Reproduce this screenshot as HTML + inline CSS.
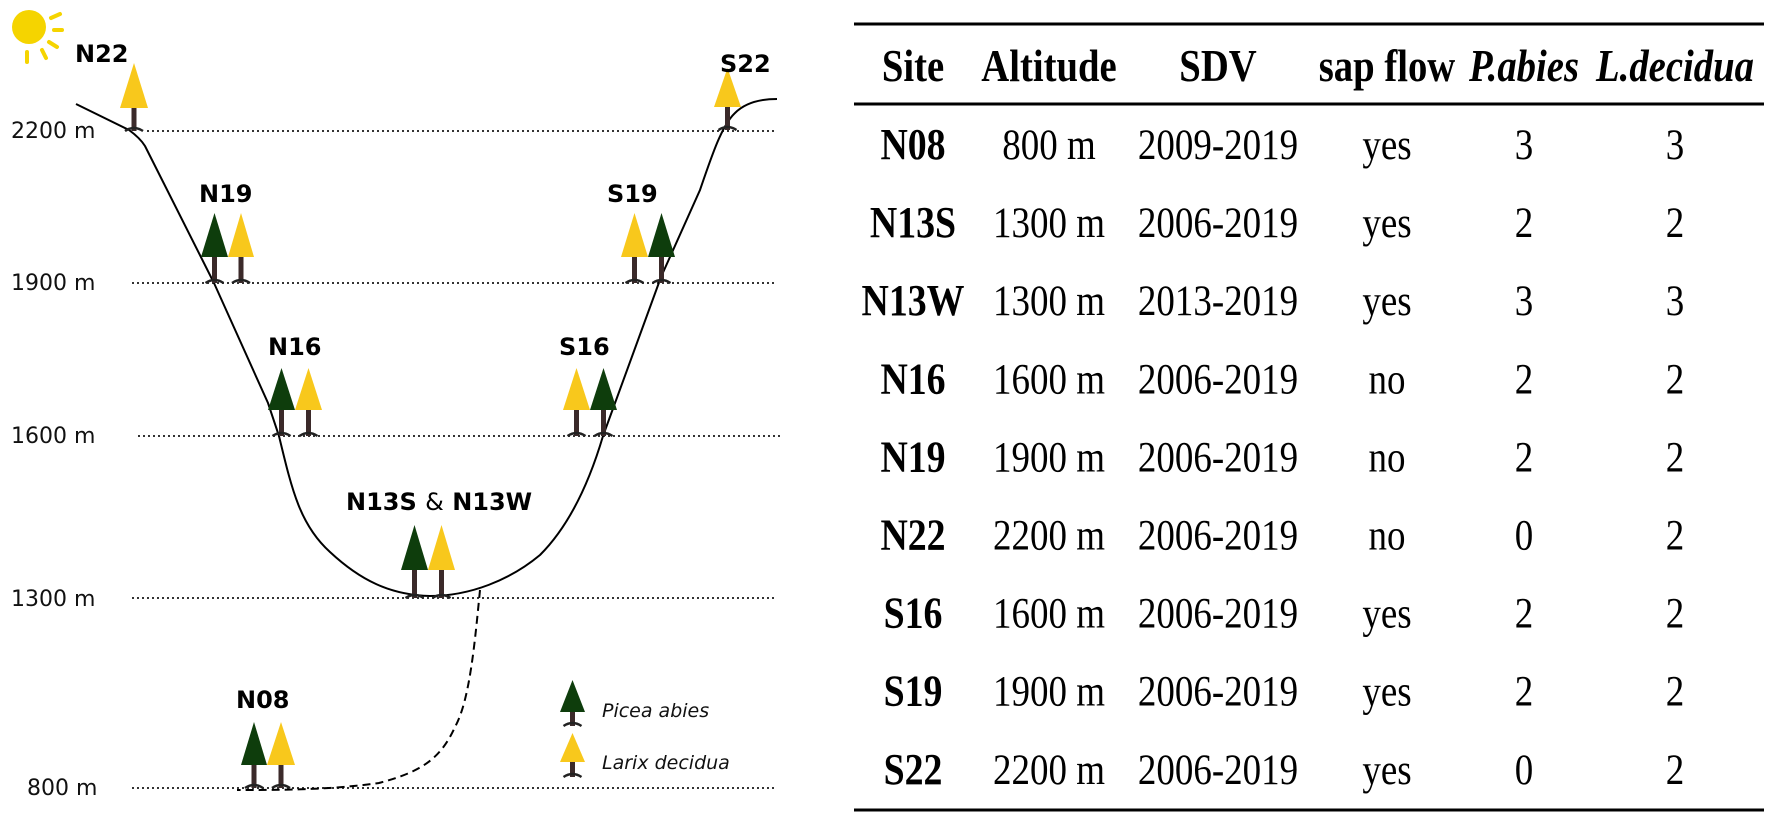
<!DOCTYPE html>
<html><head><meta charset="utf-8"><style>
html,body{margin:0;padding:0;background:#fff;}
svg{display:block;}
.lbl{font-family:"DejaVu Sans",sans-serif;font-weight:bold;font-size:24px;fill:#000;}
.alt{font-family:"DejaVu Sans",sans-serif;font-size:22px;fill:#111;}
.leg{font-family:"DejaVu Sans",sans-serif;font-style:italic;font-size:19px;fill:#111;}
.th{font-family:"Liberation Serif",serif;font-weight:bold;font-size:45px;fill:#000;}
.td{font-family:"Liberation Serif",serif;font-size:43px;fill:#000;}
.tdb{font-family:"Liberation Serif",serif;font-weight:bold;font-size:44px;fill:#000;}
</style></head><body>
<svg id="fig" width="1772" height="818" viewBox="0 0 1772 818">
<g stroke="#f5d400" stroke-width="4" stroke-linecap="round">
<circle cx="29" cy="27" r="17" fill="#f5d400" stroke="none"/>
<line x1="51" y1="18" x2="60" y2="14"/><line x1="54" y1="30" x2="62" y2="30"/>
<line x1="49" y1="42" x2="57" y2="47"/><line x1="42" y1="50" x2="46" y2="58"/><line x1="27" y1="52" x2="27" y2="62"/>
</g>
<g stroke="#333" stroke-width="2" stroke-dasharray="2,3">
<line x1="147" y1="131" x2="775" y2="131"/><line x1="132" y1="283" x2="775" y2="283"/>
<line x1="138" y1="436" x2="782" y2="436"/><line x1="132" y1="598" x2="775" y2="598"/>
<line x1="132" y1="788" x2="775" y2="788"/>
</g>
<g>
<text class="alt" x="11" y="138">2200 m</text><text class="alt" x="11" y="290">1900 m</text>
<text class="alt" x="11" y="443">1600 m</text><text class="alt" x="11" y="606">1300 m</text>
<text class="alt" x="27" y="795">800 m</text>
</g>
<path fill="none" stroke="#000" stroke-width="2"
 d="M76,104 L129,130 Q140,138 145,146 L214,283 L268,403 L279,436 C292,490 300,525 330,552 C360,580 390,595 430,596 C470,596 510,580 540,555 C570,525 590,480 603,436 L661,277 L700,190 C712,155 722,125 735,113 C745,103 760,99 777,99"/>
<path fill="none" stroke="#000" stroke-width="2" stroke-dasharray="8,5"
 d="M480,590 C475,640 470,700 455,727 C440,760 420,772 379,783 C330,790 280,790 237,790"/>
<g id="trees"></g>
<g>
<text class="lbl" x="75" y="62">N22</text><text class="lbl" x="199" y="202">N19</text>
<text class="lbl" x="607" y="202">S19</text><text class="lbl" x="268" y="355">N16</text>
<text class="lbl" x="559" y="355">S16</text>
<text class="lbl" x="346" y="510">N13S <tspan font-weight="normal">&amp;</tspan> N13W</text>
<text class="lbl" x="236" y="708">N08</text><text class="lbl" x="720" y="72">S22</text>
</g>
<g>
<text class="leg" x="602" y="717">Picea abies</text>
<text class="leg" x="602" y="769">Larix decidua</text>
</g>
<g stroke="#000" stroke-width="3">
<line x1="854" y1="24" x2="1764" y2="24"/><line x1="854" y1="104" x2="1764" y2="104"/>
<line x1="854" y1="810" x2="1764" y2="810"/>
</g>
<g id="tbl"></g>
</svg>
<script>
const headers = ["Site","Altitude","SDV","sap flow","P.abies","L.decidua"];
const sites = ["N08","N13S","N13W","N16","N19","N22","S16","S19","S22"];
const altitudes = ["800 m","1300 m","1300 m","1600 m","1900 m","2200 m","1600 m","1900 m","2200 m"];
const sdv = ["2009-2019","2006-2019","2013-2019","2006-2019","2006-2019","2006-2019","2006-2019","2006-2019","2006-2019"];
const sapFlow = ["yes","yes","yes","no","no","no","yes","yes","yes"];
const piceaCount = [3,2,3,2,2,0,2,2,0];
const larixCount = [3,2,3,2,2,2,2,2,2];

const NS="http://www.w3.org/2000/svg";
const colX=[913,1049,1218,1387,1524,1675];
const tbl=document.getElementById('tbl');
function txt(parent,cls,x,y,s,italic){
  const t=document.createElementNS(NS,'text');
  t.setAttribute('class',cls);t.setAttribute('x',0);t.setAttribute('y',0);
  t.setAttribute('transform','translate('+x+','+y+') scale(0.86,1)');
  t.setAttribute('text-anchor','middle');
  if(italic)t.setAttribute('font-style','italic');
  t.textContent=s;parent.appendChild(t);return t;
}
headers.forEach((h,i)=>{
  const t=txt(tbl,'th',colX[i],81,h,i>=4);
  
  
});
sites.forEach((s,r)=>{
  const y=159+r*78.1;
  const vals=[s,altitudes[r],sdv[r],sapFlow[r],String(piceaCount[r]),String(larixCount[r])];
  vals.forEach((v,i)=>{
    const t=txt(tbl,i===0?'tdb':'td',colX[i],y,v,false);
    
    
  });
});

const G="#0e3d0c",Y="#f8c81c",T="#3b2a2a";
const trees=document.getElementById('trees');
function tree(x1,x2,top,base,ground,col){
  const g=document.createElementNS(NS,'g');
  
  
  const cx=(x1+x2)/2;
  g.innerHTML=`<rect x="${cx-2.5}" y="${base}" width="5" height="${ground-base}" fill="${T}"/>`+
   `<path d="M${cx-9},${ground} Q${cx},${ground-6} ${cx+9},${ground}" fill="none" stroke="#222" stroke-width="2.5"/>`+
   `<polygon points="${x1},${base} ${x2},${base} ${cx},${top}" fill="${col}"/>`;
  trees.appendChild(g);
}
tree(120,148,63,108,131,Y);
tree(201,228,213,257,283,G);tree(228,254,213,257,283,Y);
tree(621,648,213,257,283,Y);tree(648,675,213,257,283,G);
tree(268,295,368,410,436,G);tree(295,322,368,410,436,Y);
tree(563,590,368,410,436,Y);tree(590,617,368,410,436,G);
tree(401,428,525,570,598,G);tree(428,455,525,570,598,Y);
tree(241,267,722,765,788,G);tree(267,295,722,765,788,Y);
tree(714,741,68,107,130,Y);
tree(560,585,680,712,726,G);tree(560,585,733,762,777,Y);
</script>
</body></html>
